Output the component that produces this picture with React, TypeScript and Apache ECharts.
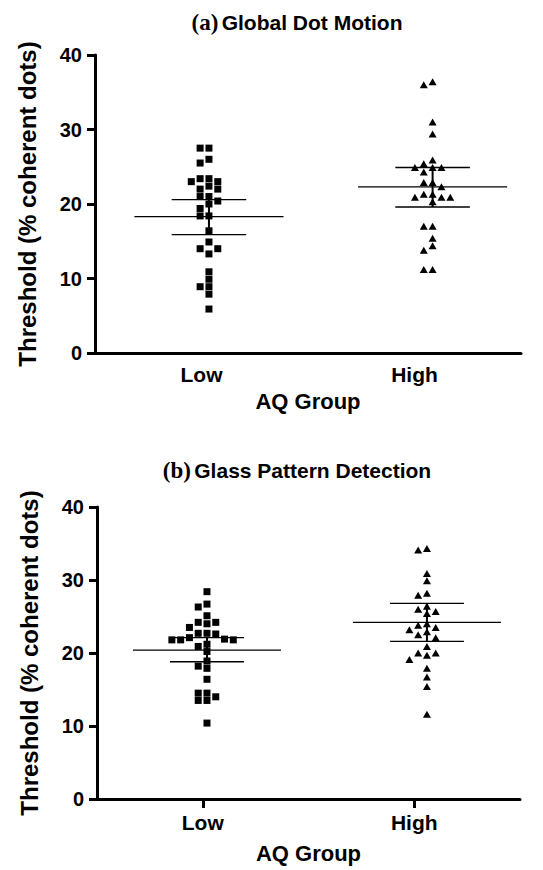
import React, { useEffect, useRef } from "react";
import * as echarts from "echarts";

// ---- data ----
const groups = ["Low", "High"];
const yMin = 0;
const yMax = 40;
const yInterval = 10;

// (a) Global Dot Motion thresholds (% coherent dots)
const lowA = [27.5, 27.5, 26.0, 25.5, 23.4, 23.4, 23.0, 23.0, 22.4, 22.0, 22.0, 21.0, 21.0, 20.4, 20.0, 19.4, 18.4, 18.4, 16.4, 14.9, 14.0, 14.0, 13.3, 10.9, 9.9, 8.9, 8.9, 7.9, 5.9];
const highA = [36.4, 36.0, 31.0, 29.4, 25.9, 25.4, 24.9, 24.9, 24.9, 24.3, 22.9, 22.9, 22.3, 21.3, 21.3, 20.9, 20.9, 20.9, 20.3, 17.0, 17.0, 15.4, 14.4, 13.8, 11.2, 11.2];
// mean and 95% CI for (a): [Low, High]
const meanA = [18.3, 22.3];
const ciLowA = [15.9, 19.6];
const ciHighA = [20.6, 24.9];

// (b) Glass Pattern Detection thresholds (% coherent dots)
const lowB = [28.4, 26.7, 26.3, 25.1, 24.2, 24.2, 24.0, 23.5, 22.7, 22.7, 22.6, 22.1, 21.9, 21.8, 21.8, 21.8, 21.2, 20.9, 20.2, 18.9, 18.2, 17.9, 16.4, 14.5, 14.5, 14.0, 13.5, 13.5, 10.4];
const highB = [34.3, 34.1, 30.9, 29.9, 28.2, 27.9, 26.4, 26.0, 25.7, 25.4, 24.0, 23.8, 23.5, 23.2, 22.9, 22.5, 22.1, 20.9, 20.0, 20.0, 19.7, 19.1, 17.9, 16.7, 15.4, 11.6];
// mean and 95% CI for (b): [Low, High]
const meanB = [20.4, 24.2];
const ciLowB = [18.8, 21.6];
const ciHighB = [22.1, 26.8];

// ---- layout constants ----
const SANS = "Liberation Sans, Arial, sans-serif";
const SERIF = "Liberation Serif, Times New Roman, serif";
const X_UNITS = 4; // hidden value axis for jittered points: 0..4
const STEP = 0.083; // horizontal column spacing of points (x units)

// simple beeswarm: points that would overlap are moved into side columns
function swarm(values: number[], center: number, thresh: number): number[][] {
  const placed: { col: number; y: number }[] = [];
  const sorted = [...values].sort((a, b) => b - a);
  for (const v of sorted) {
    for (let k = 0; k < 30; k++) {
      const col = k === 0 ? 0 : k % 2 === 1 ? -Math.ceil(k / 2) : Math.ceil(k / 2);
      if (!placed.some((p) => p.col === col && Math.abs(p.y - v) < thresh)) {
        placed.push({ col, y: v });
        break;
      }
    }
  }
  return placed.map((p) => [center + p.col * STEP, p.y]);
}

function errorBarRender(params: any, api: any) {
  const x = api.value(0);
  const m = api.value(1);
  const lo = api.value(2);
  const hi = api.value(3);
  const pm = api.coord([x, m]);
  const plo = api.coord([x, lo]);
  const phi = api.coord([x, hi]);
  const unit = api.size([1, 0])[0];
  const mw = 0.7 * unit;
  const cw = 0.35 * unit;
  const thin = { stroke: "#000", lineWidth: 1.3 };
  return {
    type: "group",
    children: [
      { type: "line", shape: { x1: pm[0] - mw, y1: pm[1], x2: pm[0] + mw, y2: pm[1] }, style: thin },
      { type: "line", shape: { x1: plo[0] - cw, y1: plo[1], x2: plo[0] + cw, y2: plo[1] }, style: thin },
      { type: "line", shape: { x1: phi[0] - cw, y1: phi[1], x2: phi[0] + cw, y2: phi[1] }, style: thin },
      { type: "line", shape: { x1: plo[0], y1: plo[1], x2: phi[0], y2: phi[1] }, style: { stroke: "#000", lineWidth: 2 } },
    ],
  };
}

function makeCatAxis(gridIndex: number, showTicks: boolean, margin: number, nameGap: number) {
  return {
    type: "category",
    gridIndex,
    data: groups,
    boundaryGap: true,
    name: "AQ Group",
    nameLocation: "middle",
    nameGap,
    nameTextStyle: { fontFamily: SANS, fontWeight: "bold", fontSize: 22, color: "#000" },
    axisLine: { show: true, lineStyle: { color: "#000", width: 3 } },
    axisTick: { show: showTicks, alignWithLabel: true, length: 9, lineStyle: { color: "#000", width: 3 } },
    axisLabel: { fontFamily: SANS, fontWeight: "bold", fontSize: 21, color: "#000", margin },
    splitLine: { show: false },
  };
}

function makeValXAxis(gridIndex: number) {
  return {
    type: "value",
    gridIndex,
    min: 0,
    max: X_UNITS,
    show: false,
    splitLine: { show: false },
  };
}

function makeYAxis(gridIndex: number) {
  return {
    type: "value",
    gridIndex,
    min: yMin,
    max: yMax,
    interval: yInterval,
    name: "Threshold (% coherent dots)",
    nameLocation: "middle",
    nameGap: 56,
    nameTextStyle: { fontFamily: SANS, fontWeight: "bold", fontSize: 24, color: "#000" },
    axisLine: { show: true, lineStyle: { color: "#000", width: 3 } },
    axisTick: { show: true, length: 8, lineStyle: { color: "#000", width: 3 } },
    axisLabel: { fontFamily: SANS, fontWeight: "bold", fontSize: 20, color: "#000", margin: 13 },
    splitLine: { show: false },
  };
}

function titleText(y: number, tag: string, label: string) {
  return {
    type: "text",
    x: 297,
    y,
    style: {
      text: `{p|${tag}} {t|${label}}`,
      align: "center",
      verticalAlign: "middle",
      fill: "#000",
      rich: {
        p: { fontFamily: SERIF, fontWeight: "bold", fontSize: 23, fill: "#000" },
        t: { fontFamily: SANS, fontWeight: "bold", fontSize: 21, fill: "#000" },
      },
    },
  };
}

export default function App() {
  const ref = useRef<HTMLDivElement>(null);

  useEffect(() => {
    if (!ref.current) return;
    const chart = echarts.init(ref.current, undefined, { renderer: "svg" });

    const gridA = { left: 95, top: 55, width: 426, height: 298 };
    const gridB = { left: 97, top: 507, width: 423, height: 292 };
    const pxPerUnitA = gridA.height / (yMax - yMin);
    const pxPerUnitB = gridB.height / (yMax - yMin);
    const centersA = [1.07, 3.17];
    const centersB = [1.04, 3.12];

    const scatterStyle = { color: "#000", opacity: 1 };

    const option: any = {
      animation: false,
      backgroundColor: "#fff",
      grid: [gridA, gridB],
      xAxis: [
        makeCatAxis(0, false, 11, 37),
        makeValXAxis(0),
        makeCatAxis(1, true, 13, 43),
        makeValXAxis(1),
      ],
      yAxis: [makeYAxis(0), makeYAxis(1)],
      graphic: [
        titleText(22, "(a)", "Global Dot Motion"),
        titleText(470, "(b)", "Glass Pattern Detection"),
      ],
      series: [
        {
          type: "scatter",
          xAxisIndex: 1,
          yAxisIndex: 0,
          symbol: "rect",
          symbolSize: 7,
          itemStyle: scatterStyle,
          data: swarm(lowA, centersA[0], 6.8 / pxPerUnitA),
          z: 3,
        },
        {
          type: "scatter",
          xAxisIndex: 1,
          yAxisIndex: 0,
          symbol: "triangle",
          symbolSize: [8, 7],
          itemStyle: scatterStyle,
          data: swarm(highA, centersA[1], 6.8 / pxPerUnitA),
          z: 3,
        },
        {
          type: "custom",
          xAxisIndex: 1,
          yAxisIndex: 0,
          renderItem: errorBarRender,
          encode: { x: 0, y: 1 },
          clip: false,
          data: groups.map((_, i) => [centersA[i], meanA[i], ciLowA[i], ciHighA[i]]),
          z: 4,
        },
        {
          type: "scatter",
          xAxisIndex: 3,
          yAxisIndex: 1,
          symbol: "rect",
          symbolSize: 7,
          itemStyle: scatterStyle,
          data: swarm(lowB, centersB[0], 6.8 / pxPerUnitB),
          z: 3,
        },
        {
          type: "scatter",
          xAxisIndex: 3,
          yAxisIndex: 1,
          symbol: "triangle",
          symbolSize: [8, 7],
          itemStyle: scatterStyle,
          data: swarm(highB, centersB[1], 6.8 / pxPerUnitB),
          z: 3,
        },
        {
          type: "custom",
          xAxisIndex: 3,
          yAxisIndex: 1,
          renderItem: errorBarRender,
          encode: { x: 0, y: 1 },
          clip: false,
          data: groups.map((_, i) => [centersB[i], meanB[i], ciLowB[i], ciHighB[i]]),
          z: 4,
        },
      ],
    };

    chart.setOption(option);
    return () => chart.dispose();
  }, []);

  return (
    <div
      ref={ref}
      style={{ position: "absolute", left: 0, top: 0, width: 543, height: 870, background: "#fff" }}
    />
  );
}
